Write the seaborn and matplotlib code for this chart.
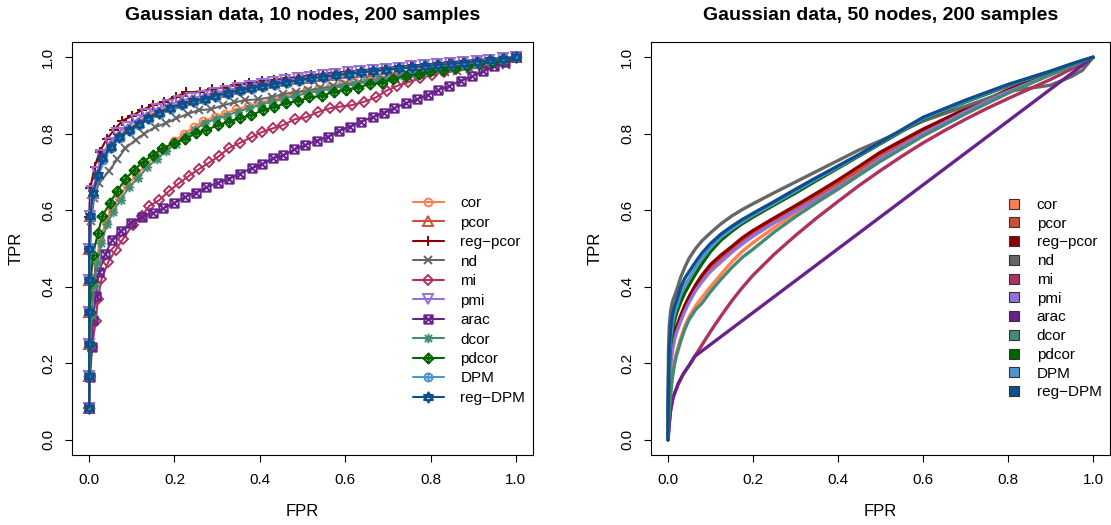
import matplotlib
matplotlib.use("Agg")
import matplotlib.pyplot as plt
from matplotlib.path import Path
from matplotlib.lines import Line2D
import pandas as pd
import seaborn as sns

# ---------------------------------------------------------------- data
methods = ["cor", "pcor", "reg-pcor", "nd", "mi", "pmi", "arac",
           "dcor", "pdcor", "DPM", "reg-DPM"]
colors = ["#FF7F50", "#CD4F39", "#8B0000", "#666666", "#B03060", "#9370DB",
          "#68228B", "#458B74", "#006400", "#4F94CD", "#104E8B"]

# 10 nodes: averaged ROC points, one per ranked edge
fpr10 = {
    "cor": [0, .001, .002, .005, .010, .017, .026, .039, .053, .070, .090, .111, .132, .154, .177,
            .199, .222, .245, .268, .294, .319, .345, .372, .399, .426, .453, .480, .508, .536, .564,
            .592, .621, .650, .678, .707, .736, .765, .794, .823, .852, .882, .911, .940, .970, 1.0],
    "pcor": [0, 0, 0, 0, 0, 0, .003, .009, .020, .030, .050, .069, .091, .115, .136,
             .161, .187, .215, .241, .269, .294, .323, .351, .378, .405, .433, .461, .490, .519, .548,
             .577, .607, .636, .666, .696, .726, .756, .786, .816, .847, .878, .909, .939, .970, 1.0],
    "reg-pcor": [0, 0, 0, 0, 0, 0, 0, .003, .013, .025, .041, .059, .078, .101, .124,
                 .150, .176, .203, .228, .260, .287, .314, .343, .375, .404, .433, .462, .491, .520, .549,
                 .578, .607, .636, .665, .694, .724, .754, .784, .814, .844, .875, .906, .937, .968, 1.0],
    "nd": [0, 0, 0, 0, .002, .003, .005, .012, .023, .047, .066, .085, .109, .129, .154,
           .180, .204, .231, .258, .285, .313, .339, .366, .396, .428, .455, .484, .513, .542, .571,
           .600, .630, .659, .688, .717, .746, .775, .804, .833, .862, .892, .921, .950, .976, 1.0],
    "mi": [0, .002, .006, .016, .020, .029, .045, .063, .080, .102, .123, .141, .164, .187, .211,
           .234, .258, .282, .305, .327, .353, .381, .404, .430, .455, .482, .508, .537, .565, .588,
           .617, .645, .672, .697, .721, .748, .775, .803, .831, .859, .887, .915, .943, .972, 1.0],
    "pmi": [0, 0, 0, 0, 0, 0, .002, .008, .019, .029, .048, .066, .088, .111, .133,
            .158, .184, .211, .238, .266, .292, .320, .348, .376, .404, .432, .460, .489, .518, .547,
            .576, .606, .635, .665, .695, .725, .755, .785, .815, .846, .877, .908, .938, .969, 1.0],
    "arac": [0, .002, .007, .009, .016, .023, .038, .054, .074, .098, .123, .149, .174, .199, .224,
             .250, .275, .301, .328, .353, .381, .406, .430, .455, .481, .507, .533, .559, .586, .611,
             .637, .664, .690, .715, .742, .768, .794, .818, .844, .871, .897, .922, .949, .975, 1.0],
    "dcor": [0, .001, .003, .006, .012, .019, .029, .042, .056, .074, .094, .115, .136, .158, .181,
             .203, .226, .248, .271, .297, .322, .348, .375, .402, .429, .456, .483, .511, .539, .567,
             .595, .623, .652, .680, .709, .738, .767, .796, .825, .854, .883, .912, .941, .970, 1.0],
    "pdcor": [0, 0, .001, .002, .004, .009, .021, .031, .049, .066, .085, .105, .127, .149, .172,
              .199, .224, .250, .275, .303, .328, .353, .379, .407, .434, .461, .489, .516, .545, .574,
              .602, .629, .657, .686, .713, .743, .772, .799, .828, .857, .886, .914, .943, .971, 1.0],
    "DPM": [0, 0, 0, 0, 0, .001, .004, .010, .022, .033, .052, .072, .095, .118, .140,
            .165, .191, .218, .245, .272, .298, .326, .354, .381, .408, .436, .464, .492, .521, .550,
            .579, .608, .637, .667, .697, .727, .757, .787, .817, .848, .878, .909, .939, .970, 1.0],
    "reg-DPM": [0, 0, 0, 0, 0, 0, .003, .009, .021, .031, .051, .070, .093, .117, .138,
                .163, .189, .217, .243, .271, .296, .325, .353, .379, .406, .434, .462, .491, .520, .549,
                .578, .608, .637, .666, .696, .726, .756, .786, .817, .848, .879, .909, .939, .970, 1.0],
}
tpr10 = {
    "cor": [.083, .167, .249, .330, .406, .468, .522, .570, .603, .635, .667, .691, .718, .740, .761,
            .780, .799, .817, .833, .844, .853, .864, .872, .881, .889, .897, .904, .911, .917, .923,
            .929, .935, .940, .946, .951, .956, .961, .966, .971, .976, .981, .986, .991, .996, 1.0],
    "pcor": [.083, .167, .25, .333, .417, .5, .585, .646, .695, .739, .768, .794, .812, .829, .845,
             .858, .870, .880, .888, .894, .903, .909, .916, .922, .927, .932, .937, .942, .947, .951,
             .955, .959, .962, .965, .969, .972, .975, .978, .981, .984, .987, .990, .993, .996, 1.0],
    "reg-pcor": [.083, .167, .25, .333, .417, .5, .583, .658, .714, .753, .786, .810, .834, .847, .862,
                 .875, .884, .897, .908, .910, .917, .921, .927, .932, .937, .941, .945, .949, .953, .957,
                 .960, .963, .966, .969, .972, .975, .978, .981, .984, .987, .990, .993, .995, .998, 1.0],
    "nd": [.083, .167, .25, .333, .415, .497, .571, .633, .670, .703, .733, .762, .784, .800, .817,
           .828, .840, .852, .862, .864, .874, .882, .888, .890, .896, .904, .909, .914, .919, .924,
           .929, .934, .938, .942, .946, .950, .954, .958, .961, .964, .970, .974, .977, .981, 1.0],
    "mi": [.083, .167, .242, .310, .367, .419, .465, .497, .526, .561, .585, .611, .626, .650, .671,
           .690, .708, .725, .742, .762, .776, .791, .804, .814, .823, .838, .843, .857, .867, .871,
           .875, .884, .895, .913, .925, .935, .945, .954, .962, .970, .977, .984, .990, .995, 1.0],
    "pmi": [.083, .167, .25, .333, .417, .5, .585, .650, .700, .744, .775, .801, .819, .836, .851,
            .864, .875, .885, .893, .899, .907, .913, .920, .926, .931, .936, .941, .945, .949, .953,
            .957, .961, .964, .967, .970, .973, .976, .979, .982, .985, .988, .991, .994, .997, 1.0],
    "arac": [.083, .165, .242, .314, .377, .439, .485, .523, .546, .567, .583, .593, .605, .619, .635,
             .646, .660, .672, .683, .696, .710, .721, .736, .744, .759, .771, .782, .792, .808, .819,
             .832, .843, .855, .867, .880, .890, .902, .915, .925, .939, .950, .963, .976, .988, 1.0],
    "dcor": [.083, .166, .247, .327, .401, .462, .515, .563, .596, .628, .661, .685, .712, .734, .755,
             .774, .793, .811, .828, .839, .847, .858, .867, .876, .884, .892, .899, .906, .912, .918,
             .924, .930, .936, .942, .947, .952, .957, .962, .967, .972, .977, .982, .988, .994, 1.0],
    "pdcor": [.083, .167, .25, .333, .414, .484, .541, .585, .619, .651, .681, .705, .727, .744, .762,
              .775, .786, .801, .810, .823, .832, .841, .849, .861, .870, .880, .886, .895, .899, .910,
              .915, .921, .930, .934, .943, .952, .956, .963, .968, .973, .978, .984, .989, .995, 1.0],
    "DPM": [.083, .167, .25, .333, .417, .499, .582, .641, .689, .732, .762, .788, .806, .823, .839,
            .852, .864, .874, .882, .889, .897, .904, .911, .917, .922, .928, .933, .938, .943, .947,
            .951, .955, .959, .963, .966, .970, .973, .976, .979, .982, .985, .988, .992, .996, 1.0],
    "reg-DPM": [.083, .167, .25, .333, .417, .5, .585, .644, .692, .736, .765, .791, .809, .826, .842,
                .855, .867, .877, .885, .891, .900, .906, .914, .920, .925, .930, .935, .940, .945, .949,
                .953, .957, .961, .964, .968, .971, .974, .977, .980, .983, .986, .989, .992, .996, 1.0],
}

# 50 nodes: ROC curves sampled along the FPR axis
fpr50 = [0, .001, .003, .006, .01, .015, .02, .03, .04, .05, .065, .08, .1, .125, .15,
         .175, .2, .25, .3, .35, .4, .45, .5, .6, .7, .8, .9, .95, .975, 1]
tpr50 = {
    "cor":      [0, .05, .09, .13, .17, .205, .228, .265, .298, .322, .35, .372, .40, .433, .465,
                 .493, .515, .555, .592, .627, .66, .695, .732, .797, .855, .908, .955, .978, .989, 1],
    "pcor":     [0, .095, .152, .202, .237, .267, .287, .317, .344, .367, .397, .421, .449, .474, .497,
                 .520, .540, .574, .605, .637, .670, .705, .744, .806, .862, .913, .957, .979, .989, 1],
    "reg-pcor": [0, .10, .16, .21, .245, .275, .295, .325, .352, .375, .405, .43, .458, .483, .505,
                 .528, .547, .58, .612, .645, .679, .715, .752, .812, .865, .915, .958, .979, .989, 1],
    "nd":       [0, .23, .30, .335, .359, .375, .39, .425, .452, .475, .50, .52, .541, .565, .585,
                 .602, .617, .646, .674, .702, .730, .758, .782, .833, .872, .911, .927, .950, .966, 1],
    "pmi":      [0, .09, .145, .195, .23, .26, .28, .31, .337, .36, .39, .413, .44, .465, .49,
                 .512, .532, .567, .598, .628, .66, .695, .735, .80, .858, .91, .956, .978, .989, 1],
    "dcor":     [0, .04, .075, .115, .16, .195, .22, .258, .29, .315, .34, .357, .387, .42, .45,
                 .477, .498, .543, .583, .62, .655, .692, .728, .794, .852, .906, .954, .977, .989, 1],
    "pdcor":    [0, .12, .19, .245, .28, .31, .33, .36, .385, .405, .434, .46, .492, .522, .545,
                 .565, .582, .614, .645, .678, .71, .742, .774, .838, .883, .925, .962, .982, .991, 1],
    "DPM":      [0, .14, .21, .265, .30, .328, .346, .38, .404, .422, .45, .474, .502, .530, .551,
                 .570, .587, .618, .650, .682, .713, .744, .776, .840, .885, .927, .963, .982, .991, 1],
    "reg-DPM":  [0, .16, .235, .29, .325, .348, .364, .40, .423, .44, .465, .488, .513, .538, .558,
                 .576, .592, .623, .655, .686, .716, .746, .778, .843, .888, .929, .964, .983, .992, 1],
}
mi50_fpr = [0, .003, .006, .012, .024, .036, .052, .063, .08, .1, .125, .15, .175, .2, .25,
            .3, .35, .4, .45, .5, .55, .6, .65, .7, .75, .8, .85, .9, .95, 1]
mi50_tpr = [0, .041, .076, .111, .146, .172, .198, .218, .248, .283, .324, .363, .398, .430, .485,
            .534, .580, .623, .665, .704, .741, .776, .808, .838, .866, .892, .917, .942, .970, 1]
arac50_fpr = [0, .003, .006, .012, .024, .036, .052, .063, 1]
arac50_tpr = [0, .041, .076, .111, .146, .172, .198, .218, 1]

titles = ["Gaussian data, 10 nodes, 200 samples", "Gaussian data, 50 nodes, 200 samples"]
ticks = [0.0, 0.2, 0.4, 0.6, 0.8, 1.0]
tick_labels = ["0.0", "0.2", "0.4", "0.6", "0.8", "1.0"]

# ---------------------------------------------------------------- markers
def seg(a, b):
    return Path([a, b], [Path.MOVETO, Path.LINETO])

def closed(pts):
    return Path(pts + [pts[0]], [Path.MOVETO] + [Path.LINETO] * (len(pts) - 1) + [Path.CLOSEPOLY])

square_x = Path.make_compound_path(closed([(-1, -1), (1, -1), (1, 1), (-1, 1)]),
                                   seg((-1, -1), (1, 1)), seg((-1, 1), (1, -1)))
diamond_plus = Path.make_compound_path(closed([(0, -1), (1, 0), (0, 1), (-1, 0)]),
                                       seg((-1, 0), (1, 0)), seg((0, -1), (0, 1)))
circle_plus = Path.make_compound_path(Path.unit_circle(), seg((-1, 0), (1, 0)), seg((0, -1), (0, 1)))
star_david = Path.make_compound_path(closed([(0, 1), (-0.866, -0.5), (0.866, -0.5)]),
                                     closed([(0, -1), (0.866, 0.5), (-0.866, 0.5)]))
asterisk = Path.make_compound_path(seg((-1, 0), (1, 0)), seg((0, -1), (0, 1)),
                                   seg((-0.75, -0.75), (0.75, 0.75)), seg((-0.75, 0.75), (0.75, -0.75)))

markers = ["o", "^", "+", "x", "D", "v", square_x, asterisk, diamond_plus, circle_plus, star_david]
msizes = [5.6, 7.0, 6.8, 5.2, 5.4, 7.0, 6.0, 6.8, 7.2, 5.8, 7.4]

# ---------------------------------------------------------------- style
sns.set_style("ticks")
plt.rcParams.update({
    "font.family": ["Liberation Sans", "DejaVu Sans"],
    "axes.edgecolor": "black",
    "axes.linewidth": 0.8,
    "xtick.color": "black", "ytick.color": "black",
    "xtick.major.size": 5, "ytick.major.size": 5,
    "xtick.major.width": 0.8, "ytick.major.width": 0.8,
    "xtick.major.pad": 8, "ytick.major.pad": 7,
    "xtick.labelsize": 11, "ytick.labelsize": 11,
    "axes.labelsize": 12,
    "text.color": "black", "axes.labelcolor": "black",
})

fig = plt.figure(figsize=(11.11, 5.25), dpi=100)
W, H = 1111, 525
ax1 = fig.add_axes([72 / W, 1 - 455 / H, 461 / W, 413 / H])
ax2 = fig.add_axes([651 / W, 1 - 455 / H, 459 / W, 413 / H])

def nice(label):
    return label.replace("-", "\u2212")

def open_symbols(line, color, marker, size):
    line.set_marker(marker)
    line.set_markersize(size)
    line.set_markerfacecolor("none")
    line.set_markeredgecolor(color)
    line.set_markeredgewidth(1.4)

# left panel: lines with point symbols
for m, c, mk, ms in zip(methods, colors, markers, msizes):
    df = pd.DataFrame({"FPR": fpr10[m], "TPR": tpr10[m]})
    sns.lineplot(data=df, x="FPR", y="TPR", ax=ax1, color=c, lw=1.5, marker="o",
                 estimator=None, sort=False, legend=False)
    open_symbols(ax1.lines[-1], c, mk, ms)

# right panel: smooth curves
for m, c in zip(methods, colors):
    if m == "mi":
        xs, ys = mi50_fpr, mi50_tpr
    elif m == "arac":
        xs, ys = arac50_fpr, arac50_tpr
    else:
        xs, ys = fpr50, tpr50[m]
    df = pd.DataFrame({"FPR": xs, "TPR": ys})
    sns.lineplot(data=df, x="FPR", y="TPR", ax=ax2, color=c, lw=2.4,
                 estimator=None, sort=False, legend=False)

for ax, title in zip((ax1, ax2), titles):
    ax.set_xlim(-0.04, 1.04)
    ax.set_ylim(-0.04, 1.04)
    ax.set_xticks(ticks)
    ax.set_xticklabels(tick_labels)
    ax.set_yticks(ticks)
    ax.set_yticklabels(tick_labels, rotation=90, va="center")
    ax.set_xlabel("FPR", labelpad=12)
    ax.set_ylabel("TPR", labelpad=13)
    ax.set_title(title, fontsize=14, fontweight="bold", pad=16)
    for s in ax.spines.values():
        s.set_visible(True)
        s.set_color("black")

# legends
h1 = [Line2D([], [], color=c, lw=1.5, marker=mk, ms=ms, mfc="none", mec=c, mew=1.4)
      for c, mk, ms in zip(colors, markers, msizes)]
ax1.legend(h1, [nice(m) for m in methods], loc="upper left",
           bbox_to_anchor=(413 / W, 1 - 196 / H), bbox_transform=fig.transFigure,
           frameon=False, borderpad=0, borderaxespad=0, handlelength=2.0,
           handletextpad=1.1, labelspacing=0.36, fontsize=11)

h2 = [Line2D([], [], ls="none", marker="s", ms=7, mfc=c, mec="#333333", mew=0.8) for c in colors]
ax2.legend(h2, [nice(m) for m in methods], loc="upper left",
           bbox_to_anchor=(1003 / W, 1 - 198 / H), bbox_transform=fig.transFigure,
           frameon=False, borderpad=0, borderaxespad=0, handlelength=1.4,
           handletextpad=0.8, labelspacing=0.31, fontsize=11)

fig.savefig("out.png", dpi=100)
